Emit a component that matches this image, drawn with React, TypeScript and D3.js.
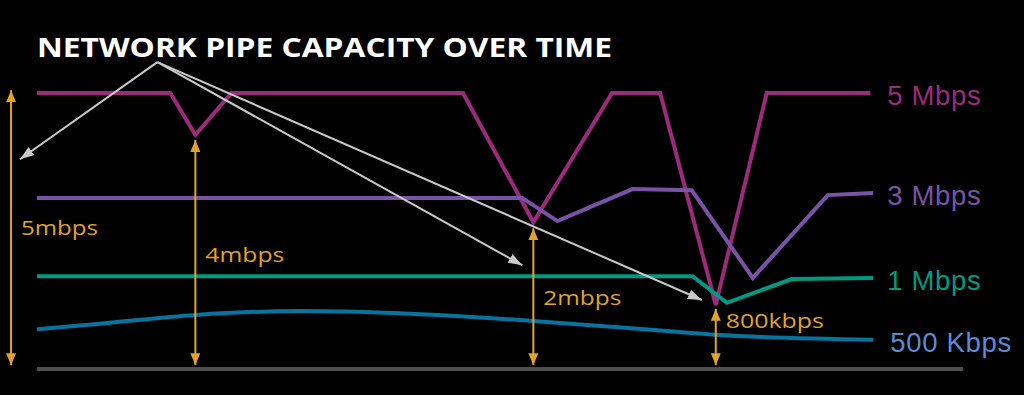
import React from "react";
import * as d3 from "d3";

const W = 1024;
const H = 395;

// time (0..100) and capacity level (arbitrary units, 0 = floor)
const fiveT = [0, 14.4, 17.1, 21.0, 46.0, 53.6, 62.1, 67.3, 73.3, 78.8, 90.0];
const fiveV = [5.0, 5.0, 4.24, 5.0, 5.0, 2.66, 5.0, 5.0, 1.16, 5.0, 5.0];

const threeT = [0, 52.4, 56.2, 64.3, 70.7, 77.3, 85.4, 90.3];
const threeV = [3.1, 3.1, 2.68, 3.26, 3.24, 1.65, 3.15, 3.19];

const oneT = [0, 70.8, 74.5, 81.5, 90.3];
const oneV = [1.68, 1.68, 1.2, 1.63, 1.65];

const halfT = [0, 6.8, 17.1, 28.3, 39.2, 53.6, 69.4, 73.3, 90.3];
const halfV = [0.72, 0.82, 0.98, 1.05, 1.01, 0.87, 0.67, 0.62, 0.53];

const seriesLabels = ["5 Mbps", "3 Mbps", "1 Mbps", "500 Kbps"];
const seriesColors = ["#9E2A7D", "#7A52A8", "#009A82", "#0774A0"];
const labelColors = ["#9E2A7D", "#7A52A8", "#009A82", "#5A8BD6"];
const labelEndT = 90.3;

const annLabels = ["5mbps", "4mbps", "2mbps", "800kbps"];
const annT = [-2.8, 17.1, 53.6, 73.3];
const annTop = [5.05, 4.15, 2.55, 1.09];
const annLabelLevel = [2.42, 1.94, 1.16, 0.74];
const annLabelWidth = [77, 79, 78, 98];

const pointerFrom = { t: 13.0, v: 5.56 };
const pointerToT = [-1.84, 52.4, 71.8];
const pointerToV = [3.8, 1.88, 1.25];

const title = "NETWORK PIPE CAPACITY OVER TIME";

export default function App() {
  const x = d3.scaleLinear().domain([0, 100]).range([37, 963]);
  const y = d3.scaleLinear().domain([0, 5]).range([369, 93]);

  const series = [
    { t: fiveT, v: fiveV, curve: d3.curveLinear },
    { t: threeT, v: threeV, curve: d3.curveLinear },
    { t: oneT, v: oneV, curve: d3.curveLinear },
    { t: halfT, v: halfV, curve: d3.curveMonotoneX },
  ];

  const orange = "#E2A22E";
  const gray = "#C9C9C9";

  return (
    <svg
      width={W}
      height={H}
      style={{ position: "fixed", left: 0, top: 0, background: "#000" }}
    >
      <defs>
        <marker
          id="oh"
          viewBox="0 0 12 10"
          refX="12"
          refY="5"
          markerWidth="12"
          markerHeight="10"
          markerUnits="userSpaceOnUse"
          orient="auto-start-reverse"
        >
          <path d="M0,0 L12,5 L0,10 Z" fill={orange} />
        </marker>
        <marker
          id="gh"
          viewBox="0 0 14 10"
          refX="14"
          refY="5"
          markerWidth="14"
          markerHeight="10"
          markerUnits="userSpaceOnUse"
          orient="auto"
        >
          <path d="M0,0 L14,5 L0,10 Z" fill={gray} />
        </marker>
      </defs>
      <rect x={0} y={0} width={W} height={H} fill="#000" />

      <text
        x={37}
        y={57}
        fill="#fff"
        fontFamily="'Open Sans', sans-serif"
        fontWeight={700}
        fontSize={27.5}
        textLength={575}
        lengthAdjust="spacingAndGlyphs"
      >
        {title}
      </text>

      {/* floor */}
      <line x1={x(0)} x2={x(100)} y1={y(0)} y2={y(0)} stroke="#4D4D4D" strokeWidth={4} />

      {/* series */}
      {series.map((s, i) => {
        const pts = s.t.map((t, j) => [t, s.v[j]] as [number, number]);
        const line = d3
          .line<[number, number]>()
          .x((d) => x(d[0]))
          .y((d) => y(d[1]))
          .curve(s.curve);
        const last = pts[pts.length - 1];
        return (
          <g key={i}>
            <path
              d={line(pts) || ""}
              fill="none"
              stroke={seriesColors[i]}
              strokeWidth={4}
              strokeLinejoin="miter"
            />
            <text
              x={x(labelEndT) + 14 + (i === 3 ? 3 : 0)}
              y={y(last[1]) + 12}
              fill={labelColors[i]}
              fontFamily="'Liberation Sans', Arial, sans-serif"
              fontSize={27.5}
              letterSpacing={0.7}
            >
              {seriesLabels[i]}
            </text>
          </g>
        );
      })}

      {/* gray pointers */}
      {pointerToT.map((t, i) => (
        <line
          key={i}
          x1={x(pointerFrom.t)}
          y1={y(pointerFrom.v)}
          x2={x(t)}
          y2={y(pointerToV[i])}
          stroke={gray}
          strokeWidth={2}
          markerEnd="url(#gh)"
        />
      ))}

      {/* orange measures */}
      {annLabels.map((lab, i) => (
        <g key={i}>
          <line
            x1={x(annT[i])}
            x2={x(annT[i])}
            y1={y(0.07)}
            y2={y(annTop[i])}
            stroke={orange}
            strokeWidth={2}
            markerStart="url(#oh)"
            markerEnd="url(#oh)"
          />
          <text
            x={x(annT[i]) + 10}
            y={y(annLabelLevel[i])}
            fill={orange}
            fontFamily="'Open Sans', sans-serif"
            fontWeight={500}
            fontSize={19.5}
            textLength={annLabelWidth[i]}
            lengthAdjust="spacingAndGlyphs"
          >
            {lab}
          </text>
        </g>
      ))}
    </svg>
  );
}
